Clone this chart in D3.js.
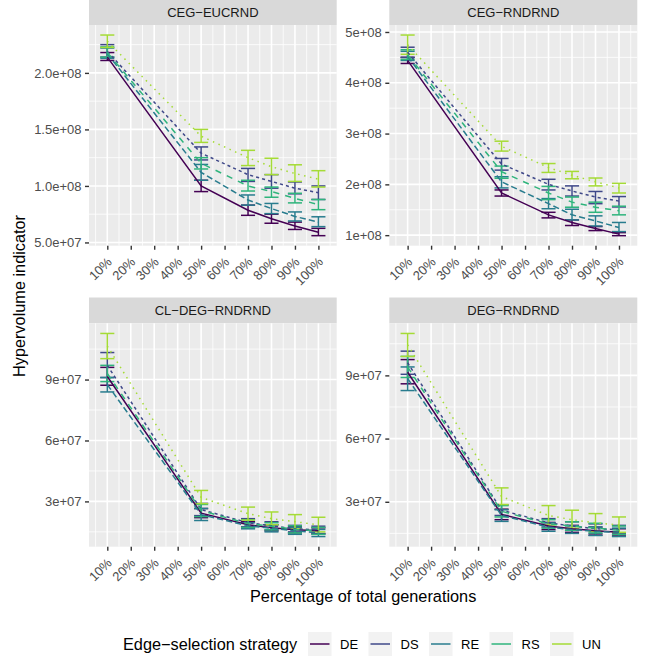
<!DOCTYPE html>
<html lang="en">
<head>
<meta charset="UTF-8">
<script src="https://d3js.org/d3.v7.min.js"></script>
<style>
body{margin:0;background:#fff;}
svg text{font-family:"Liberation Sans",Arial,sans-serif;}
</style>
</head>
<body>
<div id="chart"></div>
<script>
// ---- data ----
const strategies = ["DE", "DS", "RE", "RS", "UN"];
const generations = [10, 50, 70, 80, 90, 100];
const xBreaks = [10, 20, 30, 40, 50, 60, 70, 80, 90, 100];
const xLabels = ["10%", "20%", "30%", "40%", "50%", "60%", "70%", "80%", "90%", "100%"];
const panelTitles = ["CEG\u2212EUCRND", "CEG\u2212RNDRND", "CL\u2212DEG\u2212RNDRND", "DEG\u2212RNDRND"];

// CEG-EUCRND (rows: DE, DS, RE, RS, UN)
const cegEucMean = [
  [2.14e8, 1.00e8, 0.785e8, 0.71e8, 0.645e8, 0.59e8],
  [2.19e8, 1.29e8, 1.10e8, 1.04e8, 0.98e8, 0.94e8],
  [2.17e8, 1.12e8, 0.875e8, 0.80e8, 0.73e8, 0.68e8],
  [2.18e8, 1.20e8, 1.00e8, 0.95e8, 0.89e8, 0.835e8],
  [2.28e8, 1.44e8, 1.25e8, 1.17e8, 1.11e8, 1.06e8]];
const cegEucLo = [
  [2.11e8, 0.95e8, 0.74e8, 0.67e8, 0.615e8, 0.56e8],
  [2.14e8, 1.23e8, 1.04e8, 0.98e8, 0.93e8, 0.88e8],
  [2.13e8, 1.05e8, 0.83e8, 0.755e8, 0.69e8, 0.64e8],
  [2.14e8, 1.15e8, 0.955e8, 0.90e8, 0.85e8, 0.79e8],
  [2.225e8, 1.385e8, 1.18e8, 1.10e8, 1.04e8, 0.99e8]];
const cegEucHi = [
  [2.18e8, 1.05e8, 0.83e8, 0.75e8, 0.68e8, 0.625e8],
  [2.25e8, 1.345e8, 1.155e8, 1.10e8, 1.035e8, 1.00e8],
  [2.22e8, 1.19e8, 0.92e8, 0.845e8, 0.77e8, 0.727e8],
  [2.23e8, 1.25e8, 1.05e8, 0.99e8, 0.935e8, 0.88e8],
  [2.335e8, 1.50e8, 1.315e8, 1.245e8, 1.187e8, 1.135e8]];

// CEG-RNDRND
const cegRndMean = [
  [4.44e8, 1.83e8, 1.40e8, 1.25e8, 1.13e8, 1.02e8],
  [4.60e8, 2.40e8, 2.00e8, 1.87e8, 1.75e8, 1.67e8],
  [4.52e8, 2.05e8, 1.62e8, 1.40e8, 1.28e8, 1.15e8],
  [4.55e8, 2.25e8, 1.83e8, 1.65e8, 1.55e8, 1.48e8],
  [4.75e8, 2.75e8, 2.33e8, 2.18e8, 2.05e8, 1.93e8]];
const cegRndLo = [
  [4.38e8, 1.77e8, 1.34e8, 1.19e8, 1.09e8, 0.99e8],
  [4.50e8, 2.28e8, 1.89e8, 1.77e8, 1.62e8, 1.555e8],
  [4.44e8, 1.93e8, 1.52e8, 1.30e8, 1.18e8, 1.07e8],
  [4.46e8, 2.12e8, 1.70e8, 1.55e8, 1.45e8, 1.40e8],
  [4.56e8, 2.655e8, 2.235e8, 2.11e8, 1.97e8, 1.83e8]];
const cegRndHi = [
  [4.50e8, 1.89e8, 1.45e8, 1.30e8, 1.17e8, 1.05e8],
  [4.70e8, 2.51e8, 2.10e8, 1.97e8, 1.86e8, 1.76e8],
  [4.62e8, 2.15e8, 1.72e8, 1.51e8, 1.38e8, 1.25e8],
  [4.65e8, 2.36e8, 1.96e8, 1.75e8, 1.65e8, 1.57e8],
  [4.94e8, 2.85e8, 2.41e8, 2.255e8, 2.125e8, 2.02e8]];

// CL-DEG-RNDRND
const clDegMean = [
  [9.15e7, 2.42e7, 1.85e7, 1.70e7, 1.60e7, 1.55e7],
  [9.70e7, 2.60e7, 1.95e7, 1.80e7, 1.65e7, 1.60e7],
  [8.75e7, 2.35e7, 1.80e7, 1.68e7, 1.55e7, 1.45e7],
  [9.30e7, 2.55e7, 1.90e7, 1.78e7, 1.62e7, 1.55e7],
  [10.65e7, 3.20e7, 2.40e7, 2.15e7, 2.00e7, 1.85e7]];
const clDegLo = [
  [8.72e7, 2.20e7, 1.70e7, 1.55e7, 1.45e7, 1.40e7],
  [9.10e7, 2.30e7, 1.75e7, 1.60e7, 1.50e7, 1.42e7],
  [8.39e7, 2.06e7, 1.65e7, 1.50e7, 1.38e7, 1.27e7],
  [8.90e7, 2.25e7, 1.72e7, 1.60e7, 1.45e7, 1.38e7],
  [10.03e7, 2.89e7, 2.08e7, 1.85e7, 1.65e7, 1.50e7]];
const clDegHi = [
  [9.60e7, 2.65e7, 2.00e7, 1.85e7, 1.75e7, 1.70e7],
  [10.33e7, 2.90e7, 2.15e7, 2.00e7, 1.82e7, 1.78e7],
  [9.10e7, 2.65e7, 1.95e7, 1.85e7, 1.72e7, 1.62e7],
  [9.70e7, 2.85e7, 2.10e7, 1.95e7, 1.80e7, 1.72e7],
  [11.27e7, 3.54e7, 2.72e7, 2.48e7, 2.35e7, 2.22e7]];

// DEG-RNDRND
const degRndMean = [
  [9.15e7, 2.40e7, 1.85e7, 1.72e7, 1.62e7, 1.55e7],
  [9.60e7, 2.60e7, 2.00e7, 1.85e7, 1.72e7, 1.68e7],
  [8.85e7, 2.35e7, 1.80e7, 1.68e7, 1.60e7, 1.55e7],
  [9.40e7, 2.55e7, 1.95e7, 1.85e7, 1.75e7, 1.65e7],
  [10.45e7, 3.25e7, 2.35e7, 2.15e7, 2.00e7, 1.90e7]];
const degRndLo = [
  [8.60e7, 2.15e7, 1.68e7, 1.55e7, 1.42e7, 1.38e7],
  [9.05e7, 2.35e7, 1.80e7, 1.65e7, 1.50e7, 1.48e7],
  [8.28e7, 2.07e7, 1.60e7, 1.50e7, 1.40e7, 1.35e7],
  [8.90e7, 2.28e7, 1.75e7, 1.65e7, 1.52e7, 1.45e7],
  [9.90e7, 2.87e7, 1.90e7, 1.75e7, 1.60e7, 1.55e7]];
const degRndHi = [
  [9.75e7, 2.65e7, 2.02e7, 1.88e7, 1.80e7, 1.72e7],
  [10.15e7, 2.85e7, 2.20e7, 2.05e7, 1.95e7, 1.88e7],
  [9.40e7, 2.62e7, 2.00e7, 1.86e7, 1.80e7, 1.75e7],
  [9.90e7, 2.82e7, 2.15e7, 2.05e7, 1.98e7, 1.85e7],
  [10.99e7, 3.66e7, 2.82e7, 2.60e7, 2.44e7, 2.28e7]];

// y breaks per panel
const cegEucTicks = [5e7, 1e8, 1.5e8, 2e8];
const cegEucTickLabels = ["5.0e+07", "1.0e+08", "1.5e+08", "2.0e+08"];
const cegRndTicks = [1e8, 2e8, 3e8, 4e8, 5e8];
const cegRndTickLabels = ["1e+08", "2e+08", "3e+08", "4e+08", "5e+08"];
const degTicks = [3e7, 6e7, 9e7];
const degTickLabels = ["3e+07", "6e+07", "9e+07"];

// ---- styling ----
const colors = ["#440154", "#3F4889", "#287C8E", "#2FB47C", "#A5DB36"];
const lw = 1.5;
const dashes = [null, "3.1,3.1", "6.2,3.1", "6.2,6.2", "1.5,4.6"];
const W = 646, H = 658;

const svg = d3.select("#chart").append("svg")
  .attr("width", W).attr("height", H);

const cols = [[89, 336.7], [389.3, 637.3]];
const rows = [{strip: 0, top: 25, bottom: 245.7}, {strip: 297.5, top: 323.3, bottom: 546.7}];

const panels = [
  {title: panelTitles[0], mean: cegEucMean, lo: cegEucLo, hi: cegEucHi, ticks: cegEucTicks, labels: cegEucTickLabels},
  {title: panelTitles[1], mean: cegRndMean, lo: cegRndLo, hi: cegRndHi, ticks: cegRndTicks, labels: cegRndTickLabels},
  {title: panelTitles[2], mean: clDegMean, lo: clDegLo, hi: clDegHi, ticks: degTicks, labels: degTickLabels},
  {title: panelTitles[3], mean: degRndMean, lo: degRndLo, hi: degRndHi, ticks: degTicks, labels: degTickLabels}
];

const capHalf = 3; // errorbar half width in x units

panels.forEach(function(p, i) {
  const c = cols[i % 2], r = rows[Math.floor(i / 2)];
  const g = svg.append("g");

  // x scale: errorbar extent expanded 5%
  const xmin = d3.min(generations) - capHalf, xmax = d3.max(generations) + capHalf;
  const xpad = (xmax - xmin) * 0.05;
  const x = d3.scaleLinear().domain([xmin - xpad, xmax + xpad]).range([c[0], c[1]]);

  const ymin = d3.min(p.lo.flat()), ymax = d3.max(p.hi.flat());
  const ypad = (ymax - ymin) * 0.05;
  const y = d3.scaleLinear().domain([ymin - ypad, ymax + ypad]).range([r.bottom, r.top]);

  // strip
  g.append("rect").attr("x", c[0]).attr("y", r.strip)
    .attr("width", c[1] - c[0]).attr("height", r.top - r.strip).attr("fill", "#D9D9D9");
  g.append("text").attr("x", (c[0] + c[1]) / 2).attr("y", (r.strip + r.top) / 2)
    .attr("dy", "0.36em").attr("text-anchor", "middle")
    .style("font-size", "13px").attr("fill", "#1A1A1A").text(p.title);

  // panel background
  g.append("rect").attr("x", c[0]).attr("y", r.top)
    .attr("width", c[1] - c[0]).attr("height", r.bottom - r.top).attr("fill", "#EBEBEB");

  // minor grid
  const step = p.ticks[1] - p.ticks[0];
  const yMinor = [p.ticks[0] - step / 2].concat(p.ticks.map(t => t + step / 2))
    .filter(v => v > y.domain()[0] && v < y.domain()[1]);
  const xMinor = [5].concat(xBreaks.map(t => t + 5));
  g.selectAll(".ymin").data(yMinor).enter().append("line")
    .attr("x1", c[0]).attr("x2", c[1]).attr("y1", d => y(d)).attr("y2", d => y(d))
    .attr("stroke", "#fff").attr("stroke-width", 0.8);
  g.selectAll(".xmin").data(xMinor).enter().append("line")
    .attr("y1", r.top).attr("y2", r.bottom).attr("x1", d => x(d)).attr("x2", d => x(d))
    .attr("stroke", "#fff").attr("stroke-width", 0.8);
  // major grid
  g.selectAll(".ymaj").data(p.ticks).enter().append("line")
    .attr("x1", c[0]).attr("x2", c[1]).attr("y1", d => y(d)).attr("y2", d => y(d))
    .attr("stroke", "#fff").attr("stroke-width", 1.6);
  g.selectAll(".xmaj").data(xBreaks).enter().append("line")
    .attr("y1", r.top).attr("y2", r.bottom).attr("x1", d => x(d)).attr("x2", d => x(d))
    .attr("stroke", "#fff").attr("stroke-width", 1.6);

  // axes
  const yAxis = g.append("g").attr("transform", "translate(" + c[0] + ",0)")
    .call(d3.axisLeft(y).tickValues(p.ticks).tickFormat((d, k) => p.labels[k]).tickSize(4).tickPadding(3.5));
  const xAxis = g.append("g").attr("transform", "translate(0," + r.bottom + ")")
    .call(d3.axisBottom(x).tickValues(xBreaks).tickFormat((d, k) => xLabels[k]).tickSize(4).tickPadding(2));
  [yAxis, xAxis].forEach(a => {
    a.select(".domain").remove();
    a.selectAll(".tick line").attr("stroke", "#333333").attr("stroke-width", 1.4);
    a.selectAll(".tick text").attr("fill", "#4D4D4D").style("font-size", "13px")
      .style("font-family", "'Liberation Sans',Arial,sans-serif");
  });
  xAxis.selectAll(".tick text")
    .attr("text-anchor", "end")
    .attr("y", 0).attr("dy", 0)
    .attr("transform", "translate(5,17) rotate(-45)");

  // series
  strategies.forEach(function(s, k) {
    const pts = generations.map((gen, j) => ({x: gen, m: p.mean[k][j], lo: p.lo[k][j], hi: p.hi[k][j]}));
    const eb = g.append("g").attr("stroke", colors[k]).attr("stroke-width", lw).attr("fill", "none");
    pts.forEach(function(d) {
      eb.append("line").attr("x1", x(d.x)).attr("x2", x(d.x)).attr("y1", y(d.lo)).attr("y2", y(d.hi));
      eb.append("line").attr("x1", x(d.x - capHalf)).attr("x2", x(d.x + capHalf)).attr("y1", y(d.lo)).attr("y2", y(d.lo));
      eb.append("line").attr("x1", x(d.x - capHalf)).attr("x2", x(d.x + capHalf)).attr("y1", y(d.hi)).attr("y2", y(d.hi));
    });
  });
  strategies.forEach(function(s, k) {
    const pts = generations.map((gen, j) => ({x: gen, m: p.mean[k][j]}));
    g.append("path").datum(pts)
      .attr("d", d3.line().x(d => x(d.x)).y(d => y(d.m)))
      .attr("fill", "none").attr("stroke", colors[k]).attr("stroke-width", lw)
      .attr("stroke-dasharray", dashes[k]);
  });
});

// axis titles
svg.append("text").attr("x", (cols[0][0] + cols[1][1]) / 2).attr("y", 602)
  .attr("text-anchor", "middle").style("font-size", "16.3px").attr("fill", "#000")
  .text("Percentage of total generations");
svg.append("text").attr("transform", "translate(25,296) rotate(-90)")
  .attr("text-anchor", "middle").style("font-size", "16.3px").attr("fill", "#000")
  .text("Hypervolume indicator");

// legend (keys drawn solid, as in the reference)
const leg = svg.append("g");
leg.append("text").attr("x", 123).attr("y", 644).attr("dy", "0.36em")
  .style("font-size", "16.3px").attr("fill", "#000").text("Edge\u2212selection strategy");
strategies.forEach(function(s, k) {
  const kx = 308 + k * 60.5;
  leg.append("rect").attr("x", kx).attr("y", 632).attr("width", 23.5).attr("height", 24)
    .attr("fill", "#F2F2F2");
  leg.append("line").attr("x1", kx + 2).attr("x2", kx + 21.5).attr("y1", 644).attr("y2", 644)
    .attr("stroke", colors[k]).attr("stroke-width", lw);
  leg.append("text").attr("x", kx + 32).attr("y", 644).attr("dy", "0.36em")
    .style("font-size", "13px").attr("fill", "#000").text(s);
});
</script>
</body>
</html>
